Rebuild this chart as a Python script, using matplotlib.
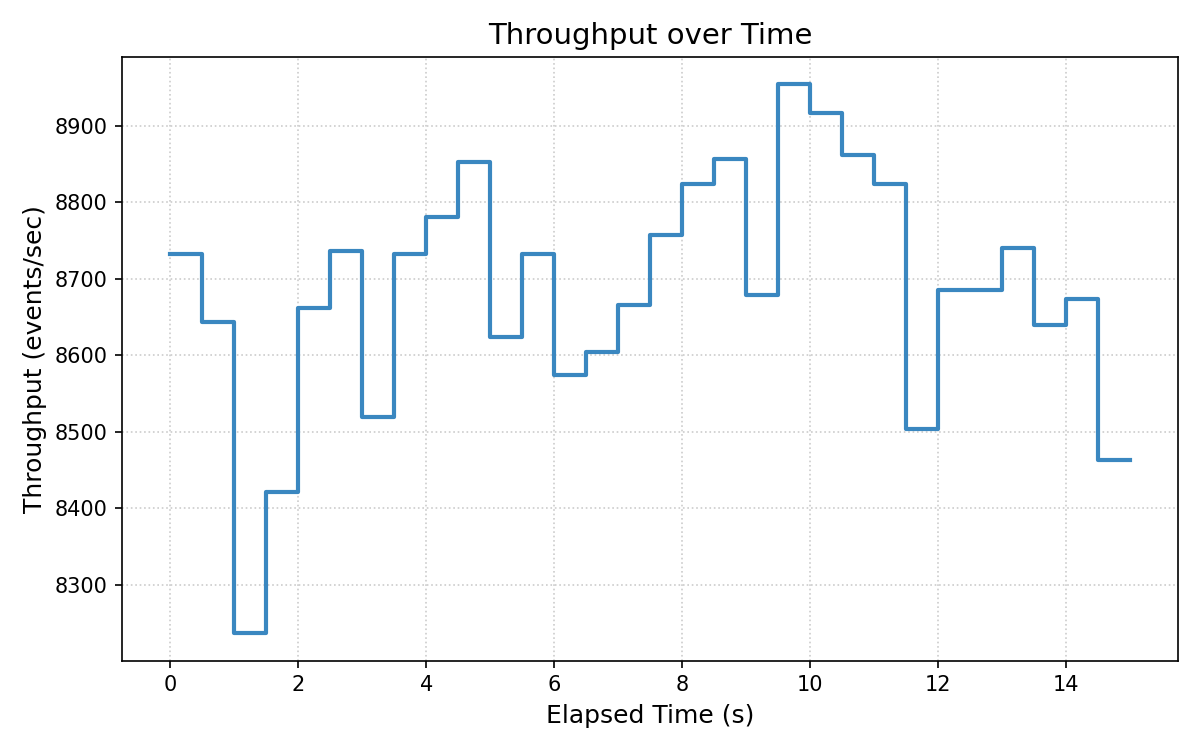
import matplotlib
matplotlib.use('Agg')
import matplotlib.pyplot as plt

# Sample times (s) and throughput per interval (events/sec)
elapsed_s = [0.0, 0.5, 1.0, 1.5, 2.0, 2.5, 3.0, 3.5, 4.0, 4.5,
             5.0, 5.5, 6.0, 6.5, 7.0, 7.5, 8.0, 8.5, 9.0, 9.5,
             10.0, 10.5, 11.0, 11.5, 12.0, 12.5, 13.0, 13.5, 14.0, 14.5, 15.0]
throughput = [8732, 8644, 8237, 8421, 8662, 8736, 8520, 8732, 8781, 8853,
              8624, 8732, 8574, 8604, 8666, 8757, 8824, 8857, 8679, 8954,
              8917, 8862, 8824, 8504, 8686, 8685, 8740, 8640, 8674, 8463, 8463]

fig, ax = plt.subplots(figsize=(8, 5), dpi=150)

# Step plot of throughput
ax.step(elapsed_s, throughput, where='post', color='#3a87c0', linewidth=2)

ax.set_title('Throughput over Time', fontsize=14)
ax.set_xlabel('Elapsed Time (s)', fontsize=12)
ax.set_ylabel('Throughput (events/sec)', fontsize=12)
ax.grid(True, linestyle=':', color='#cccccc', linewidth=0.8)

fig.tight_layout()
fig.savefig('out.png')
